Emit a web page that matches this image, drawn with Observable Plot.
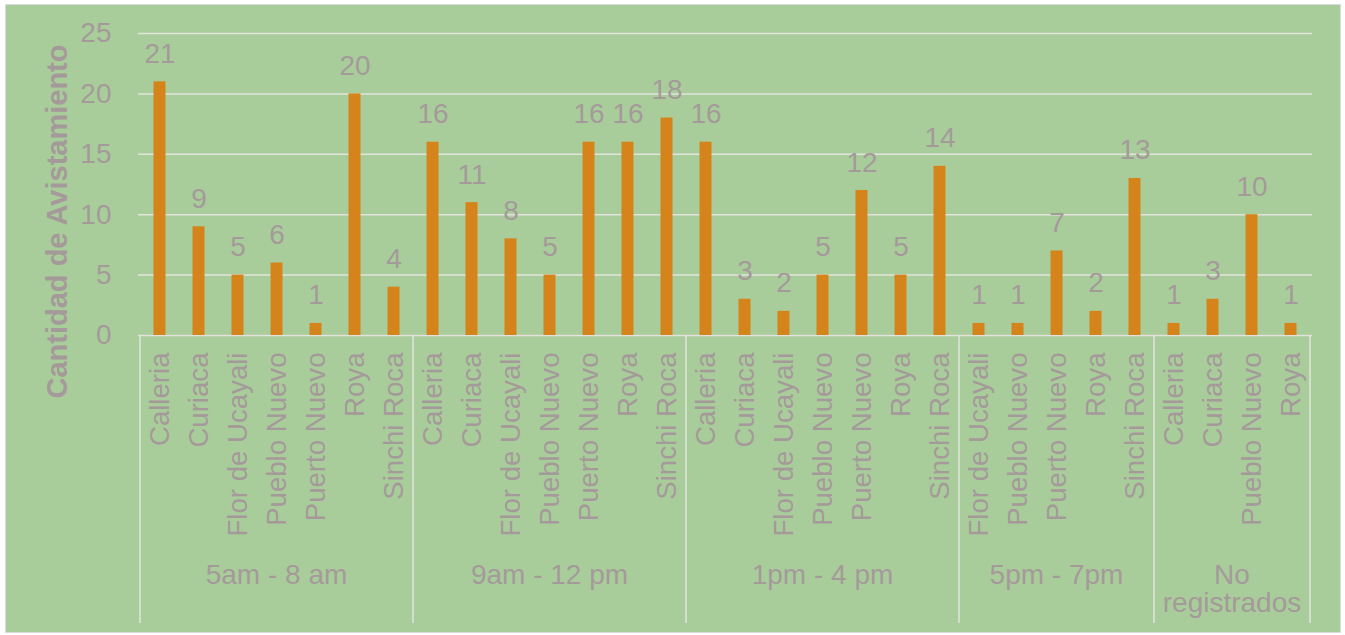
<!DOCTYPE html>
<html>
<head>
<meta charset="utf-8">
<script src="https://cdn.jsdelivr.net/npm/d3@7"></script>
<script src="https://cdn.jsdelivr.net/npm/@observablehq/plot@0.6"></script>
<style>
  body { margin: 0; background: #ffffff; }
  #panel { position: absolute; left: 5px; top: 4px; width: 1336px; height: 629px;
           background: #a9cd9a; border: 1px solid #dcdcdc; box-sizing: border-box; }
  #chart { position: absolute; left: 0; top: 0; }
  #chart svg { display: block; }
</style>
</head>
<body>
<div id="panel"></div>
<div id="chart"></div>
<script>
// Time-of-day groups and the sightings counted per locality in each
const groups = ["5am - 8 am", "9am - 12 pm", "1pm - 4 pm", "5pm - 7pm", "No registrados"];

const sitesMorning = ["Calleria", "Curiaca", "Flor de Ucayali", "Pueblo Nuevo", "Puerto Nuevo", "Roya", "Sinchi Roca"];
const countsMorning = [21, 9, 5, 6, 1, 20, 4];

const sitesMidday = ["Calleria", "Curiaca", "Flor de Ucayali", "Pueblo Nuevo", "Puerto Nuevo", "Roya", "Sinchi Roca"];
const countsMidday = [16, 11, 8, 5, 16, 16, 18];

const sitesAfternoon = ["Calleria", "Curiaca", "Flor de Ucayali", "Pueblo Nuevo", "Puerto Nuevo", "Roya", "Sinchi Roca"];
const countsAfternoon = [16, 3, 2, 5, 12, 5, 14];

const sitesEvening = ["Flor de Ucayali", "Pueblo Nuevo", "Puerto Nuevo", "Roya", "Sinchi Roca"];
const countsEvening = [1, 1, 7, 2, 13];

const sitesUnknown = ["Calleria", "Curiaca", "Pueblo Nuevo", "Roya"];
const countsUnknown = [1, 3, 10, 1];

const yTicks = [0, 5, 10, 15, 20, 25];
const yTitle = "Cantidad de Avistamiento";

// Flatten into one row per bar, keyed by group + locality
const groupSites = [sitesMorning, sitesMidday, sitesAfternoon, sitesEvening, sitesUnknown];
const groupCounts = [countsMorning, countsMidday, countsAfternoon, countsEvening, countsUnknown];
const rows = [];
groups.forEach((g, i) => {
  groupSites[i].forEach((s, j) => rows.push({ group: g, site: s, key: g + "|" + s, count: groupCounts[i][j] }));
});
const keys = rows.map(d => d.key);

const ink = "#a59a9a";
const gridColor = "#e2e4dc";
const barColor = "#d4841a";
const font = "'Liberation Sans', Arial, sans-serif";
const labelSize = 28;

// Group dividers and the time-of-day labels under the locality names
function groupBands(index, scales) {
  const x = scales.x, y = scales.y;
  const step = x(keys[1]) - x(keys[0]);
  const y0 = y(0);
  const g = d3.create("svg:g");
  const edges = new Set();
  groups.forEach(grp => {
    const ks = rows.filter(r => r.group === grp).map(r => r.key);
    const left = x(ks[0]);
    const right = x(ks[ks.length - 1]) + step;
    edges.add(left); edges.add(right);
    const lines = grp.length * 0.55 * labelSize > right - left ? grp.split(" ") : [grp];
    const t = g.append("text")
      .attr("text-anchor", "middle")
      .attr("font-size", labelSize)
      .attr("font-family", font)
      .attr("fill", ink);
    lines.forEach((ln, i) => {
      t.append("tspan").attr("x", (left + right) / 2).attr("y", y0 + 249 + i * 28).text(ln);
    });
  });
  for (const e of edges) {
    g.append("line")
      .attr("x1", e).attr("x2", e)
      .attr("y1", y0).attr("y2", y0 + 288)
      .attr("stroke", gridColor).attr("stroke-width", 1.5);
  }
  return g.node();
}

const chart = Plot.plot({
  width: 1345,
  height: 635,
  marginLeft: 138,
  marginRight: 33,
  marginTop: 33,
  marginBottom: 300,
  style: { background: "transparent", fontFamily: font, color: ink },
  x: { domain: keys, padding: 0, label: null },
  y: { domain: [0, 25], label: null },
  marks: [
    Plot.gridY(yTicks, { stroke: gridColor, strokeOpacity: 1, strokeWidth: 1.5 }),
    Plot.axisY(yTicks, { tickSize: 0, tickPadding: 27, fontSize: labelSize, fill: ink, label: null }),
    Plot.axisX({ tickSize: 0, tickPadding: 17, tickRotate: -90, fontSize: 27.6, fill: ink, label: null,
                 tickFormat: k => k.split("|")[1] }),
    Plot.barY(rows, { x: "key", y: "count", fill: barColor, insetLeft: 13.5, insetRight: 13.5 }),
    Plot.text(rows, { x: "key", y: "count", text: d => String(d.count), lineAnchor: "bottom", dy: -19,
                      fontSize: labelSize, fill: ink }),
    Plot.text([yTitle], { frameAnchor: "left", text: d => d, rotate: -90, textAnchor: "middle",
                          dx: -81, dy: 37, fontSize: 29, fontWeight: "bold", fill: ink }),
    groupBands
  ]
});

document.getElementById("chart").appendChild(chart);
</script>
</body>
</html>
